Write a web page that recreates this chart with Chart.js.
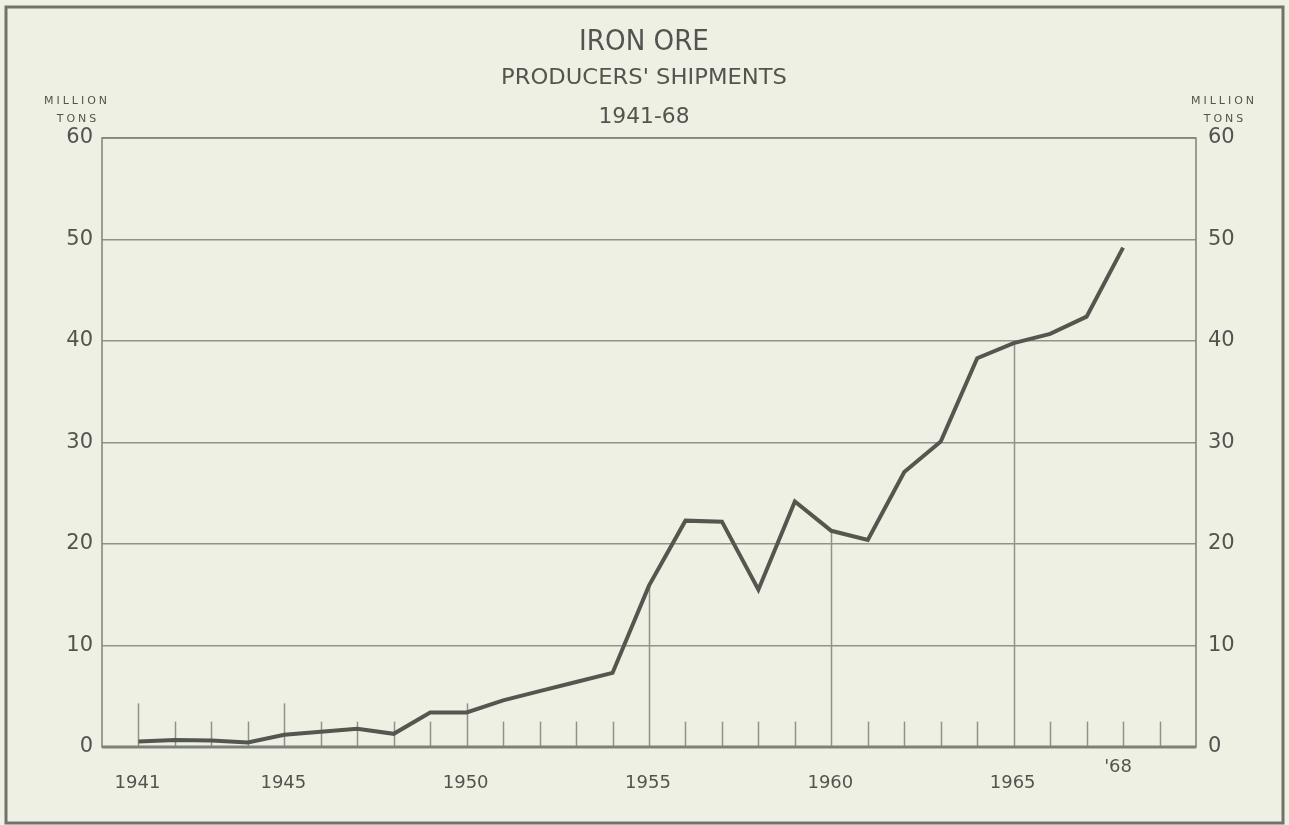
<!DOCTYPE html>
<html>
<head>
<meta charset="utf-8">
<title>Iron Ore - Producers' Shipments 1941-68</title>
<script src="https://cdn.jsdelivr.net/npm/chart.js@4.4.1/dist/chart.umd.min.js"></script>
<style>
  html, body { margin: 0; padding: 0; background: #eef0e3; }
  #wrap { width: 1289px; height: 825px; position: relative; }
</style>
</head>
<body>
<div id="wrap"><canvas id="ironChart" width="1289" height="825"></canvas></div>
<script>
// dados (milhões de toneladas)
const years = [1941, 1942, 1943, 1944, 1945, 1946, 1947, 1948, 1949, 1950,
               1951, 1952, 1953, 1954, 1955, 1956, 1957, 1958, 1959, 1960,
               1961, 1962, 1963, 1964, 1965, 1966, 1967, 1968];
const shipments = [0.55, 0.7, 0.65, 0.45, 1.2, 1.5, 1.8, 1.3, 3.4, 3.4,
                   4.6, 5.5, 6.4, 7.3, 15.9, 22.3, 22.2, 15.5, 24.2, 21.3,
                   20.4, 27.1, 30.1, 38.3, 39.8, 40.7, 42.4, 49.2];
const yTicks = [0, 10, 20, 30, 40, 50, 60];
const labelYears = [1941, 1945, 1950, 1955, 1960, 1965, 1968];
const labelTexts = ['1941', '1945', '1950', '1955', '1960', '1965', "'68"];
const majorYears = [1941, 1945, 1950, 1955, 1960, 1965];
const tickYears = [1941, 1942, 1943, 1944, 1945, 1946, 1947, 1948, 1949, 1950,
                   1951, 1952, 1953, 1954, 1955, 1956, 1957, 1958, 1959, 1960,
                   1961, 1962, 1963, 1964, 1965, 1966, 1967, 1968, 1969];
const titleLines = ['IRON ORE', "PRODUCERS' SHIPMENTS", '1941-68'];
const unitLines = ['MILLION', 'TONS'];

const ink = '#52554f';
const gridInk = '#8f938a';

// Moldura, títulos e marcas do eixo x
const decorPlugin = {
    id: 'decor',
    beforeDraw(chart) {
        const ctx = chart.ctx;
        ctx.save();
        ctx.fillStyle = '#eef0e3';
        ctx.fillRect(0, 0, chart.width, chart.height);
        ctx.strokeStyle = '#6f736b';
        ctx.lineWidth = 3;
        ctx.strokeRect(6, 7, chart.width - 12, chart.height - 9);
        ctx.restore();
    },
    beforeDatasetsDraw(chart) {
        const ctx = chart.ctx;
        const x = chart.scales.x, y = chart.scales.y;
        const area = chart.chartArea;
        ctx.save();
        ctx.strokeStyle = gridInk;
        ctx.lineWidth = 1.5;
        tickYears.forEach(yr => {
            const px = Math.round(x.getPixelForValue(yr)) + 0.5;
            let top;
            if (majorYears.includes(yr)) {
                const idx = years.indexOf(yr);
                const v = Math.max(idx >= 0 ? shipments[idx] : 0, 4.3);
                top = y.getPixelForValue(v);
            } else {
                top = y.getPixelForValue(2.5);
            }
            ctx.beginPath();
            ctx.moveTo(px, area.bottom);
            ctx.lineTo(px, top);
            ctx.stroke();
        });
        // bordas do gráfico
        ctx.strokeStyle = '#7d8179';
        ctx.lineWidth = 1.5;
        ctx.strokeRect(area.left, area.top, area.right - area.left, area.bottom - area.top);
        ctx.lineWidth = 3;
        ctx.beginPath();
        ctx.moveTo(area.left, area.bottom);
        ctx.lineTo(area.right, area.bottom);
        ctx.stroke();
        ctx.restore();
    },
    afterDraw(chart) {
        const ctx = chart.ctx;
        const x = chart.scales.x;
        const area = chart.chartArea;
        ctx.save();
        ctx.fillStyle = ink;
        ctx.textAlign = 'center';
        ctx.textBaseline = 'middle';

        // títulos (letra estreita, esticada na horizontal)
        const titles = [
            { text: titleLines[0], y: 43, size: 28, sx: 1.04 },
            { text: titleLines[1], y: 79, size: 21, sx: 1.2 },
            { text: titleLines[2], y: 117, size: 22, sx: 1.1 }
        ];
        titles.forEach(t => {
            ctx.save();
            ctx.translate(644, t.y);
            ctx.scale(t.sx, 1);
            ctx.font = t.size + 'px "Liberation Sans Narrow", "DejaVu Sans Condensed", sans-serif';
            ctx.fillText(t.text, 0, 0);
            ctx.restore();
        });

        // unidade nos dois lados
        ctx.font = '11px "DejaVu Sans", sans-serif';
        ctx.letterSpacing = '3px';
        [[77, 101], [1224, 101]].forEach(p => {
            ctx.fillText(unitLines[0], p[0], p[1]);
            ctx.fillText(unitLines[1], p[0] + 1, p[1] + 18);
        });
        ctx.letterSpacing = '0px';

        // rótulos dos anos
        ctx.font = '18px "DejaVu Sans", sans-serif';
        labelYears.forEach((yr, i) => {
            const px = x.getPixelForValue(yr);
            const isShort = labelTexts[i].startsWith("'");
            const py = isShort ? area.bottom + 20 : area.bottom + 36;
            ctx.fillText(labelTexts[i], isShort ? px - 5 : px - 1, py);
        });
        ctx.restore();
    }
};

const points = years.map((yr, i) => ({ x: yr, y: shipments[i] }));

new Chart(document.getElementById('ironChart'), {
    type: 'line',
    data: {
        datasets: [{
            label: 'Producers\' shipments',
            data: points,
            borderColor: '#53574f',
            borderWidth: 4,
            pointRadius: 0,
            tension: 0,
            fill: false,
            yAxisID: 'y'
        }]
    },
    options: {
        responsive: false,
        animation: false,
        devicePixelRatio: 1,
        layout: { padding: { left: 10, right: 10, top: 138, bottom: 0 } },
        plugins: {
            legend: { display: false },
            tooltip: { enabled: false }
        },
        scales: {
            x: {
                type: 'linear',
                min: 1940,
                max: 1970,
                grid: { display: false },
                border: { display: false },
                ticks: { display: false },
                afterFit: s => { s.height = 78; }
            },
            y: {
                position: 'left',
                min: 0,
                max: 60,
                afterBuildTicks: s => { s.ticks = yTicks.map(v => ({ value: v })); },
                grid: { color: gridInk, lineWidth: 1.5, drawTicks: false },
                border: { display: false },
                ticks: {
                    color: ink,
                    padding: 9,
                    font: { family: 'DejaVu Sans', size: 21 }
                },
                afterFit: s => { s.width = 92; }
            },
            y2: {
                position: 'right',
                min: 0,
                max: 60,
                afterBuildTicks: s => { s.ticks = yTicks.map(v => ({ value: v })); },
                grid: { display: false, drawTicks: false },
                border: { display: false },
                ticks: {
                    color: ink,
                    padding: 12,
                    font: { family: 'DejaVu Sans', size: 21 }
                },
                afterFit: s => { s.width = 83; }
            }
        }
    },
    plugins: [decorPlugin]
});
</script>
</body>
</html>
